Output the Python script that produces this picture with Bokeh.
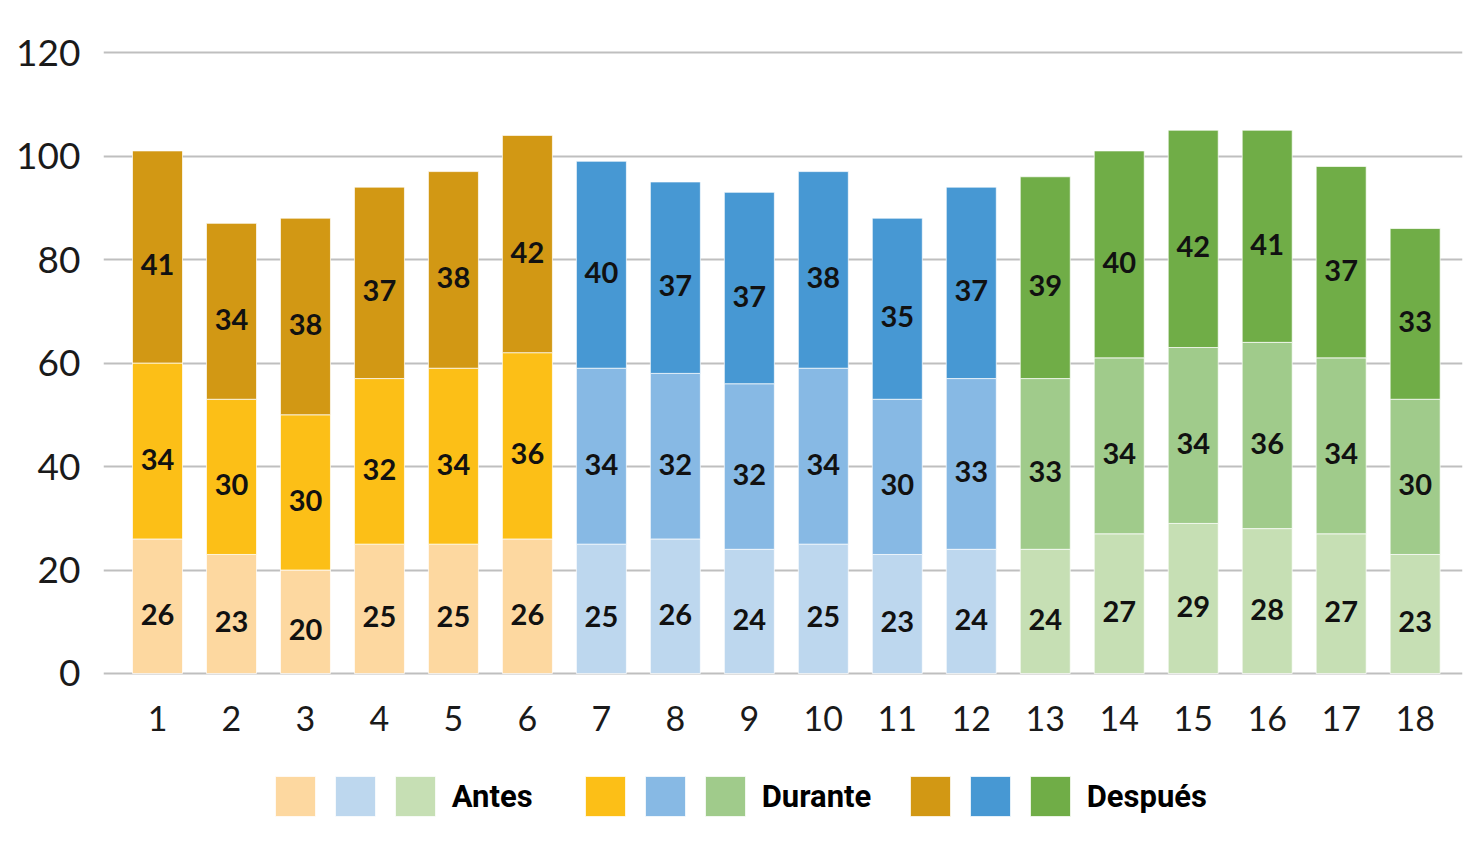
from bokeh.plotting import figure
from bokeh.models import ColumnDataSource, Legend, LegendItem, FixedTicker, Range1d
from bokeh.core.properties import value
from bokeh.embed import file_html
from bokeh.resources import INLINE

categories = ["1", "2", "3", "4", "5", "6", "7", "8", "9", "10",
              "11", "12", "13", "14", "15", "16", "17", "18"]
antes = [26, 23, 20, 25, 25, 26, 25, 26, 24, 25, 23, 24, 24, 27, 29, 28, 27, 23]
durante = [34, 30, 30, 32, 34, 36, 34, 32, 32, 34, 30, 33, 33, 34, 34, 36, 34, 30]
despues = [41, 34, 38, 37, 38, 42, 40, 37, 37, 38, 35, 37, 39, 40, 42, 41, 37, 33]
series_names = ["Antes", "Durante", "Después"]
y_ticks = [0, 20, 40, 60, 80, 100, 120]

# colour per group (bars 1-6, 7-12, 13-18) and per layer
palette = {
    "Antes":   ["#FDD8A0", "#BDD7EE", "#C6DFB4"],
    "Durante": ["#FCBF17", "#87B9E4", "#A0CB8B"],
    "Después": ["#D29814", "#4798D3", "#70AD47"],
}

xs = [int(c) for c in categories]
groups = [(x - 1) // 6 for x in xs]

# the frame reaches below zero so that category labels and legend sit inside it
p = figure(frame_width=1359, frame_height=791, output_backend="svg",
           toolbar_location=None, x_range=Range1d(0.27, 18.64),
           y_range=Range1d(-32.28, 120.6), x_axis_location=None,
           min_border_left=103, min_border_top=49,
           min_border_right=6, min_border_bottom=0)
p.outline_line_color = None
p.xgrid.grid_line_color = None
p.ygrid.grid_line_color = "#BFBFBF"
p.ygrid.grid_line_width = 2
p.ygrid.ticker = FixedTicker(ticks=y_ticks)

p.yaxis.ticker = FixedTicker(ticks=y_ticks)
p.yaxis.axis_line_color = None
p.yaxis.major_tick_line_color = None
p.yaxis.minor_tick_line_color = None
p.yaxis.major_tick_out = 0
p.yaxis.major_label_standoff = 23
p.yaxis.major_label_text_font = "Lato"
p.yaxis.major_label_text_font_size = "37px"
p.yaxis.major_label_text_color = "#1a1a1a"

# category labels under the bars
cat_src = ColumnDataSource(dict(x=xs, y=[0] * len(xs), label=categories))
p.text(x="x", y="y", text="label", source=cat_src, text_align="center",
       text_baseline="middle", y_offset=45, text_font=value("Lato"),
       text_font_size="34px", text_color="#1a1a1a")

layers = [antes, durante, despues]
renderers = []
bottom = [0] * len(xs)
for name, vals in zip(series_names, layers):
    top = [b + v for b, v in zip(bottom, vals)]
    mid = [(b + t) / 2 for b, t in zip(bottom, top)]
    src = ColumnDataSource(dict(
        x=xs, bottom=bottom, top=top, mid=mid,
        label=[str(v) for v in vals],
        color=[palette[name][g] for g in groups],
    ))
    r = p.vbar(x="x", bottom="bottom", top="top", width=0.676, source=src,
               fill_color="color", line_color="white", line_alpha=0.7,
               line_width=1)
    renderers.append(r)
    p.text(x="x", y="mid", text="label", source=src, text_align="center",
           text_baseline="middle", y_offset=8, text_font=value("Lato"),
           text_font_style="bold", text_font_size="29px", text_color="#111111")
    bottom = top

# legend: three squares per series (one per bar group), then the series name
legend_x = [167, 477, 802]
for k, (name, r) in enumerate(zip(series_names, renderers)):
    items = [
        LegendItem(label=" ", renderers=[r], index=0),
        LegendItem(label=" ", renderers=[r], index=6),
        LegendItem(label="\u00a0" + name, renderers=[r], index=12),
    ]
    lg = Legend(items=items, orientation="horizontal",
                location=(legend_x[k], 19),
                glyph_width=50, glyph_height=50, label_standoff=4,
                label_width=6, spacing=0, padding=0, margin=0,
                border_line_color=None, background_fill_alpha=0,
                label_text_font="'Liberation Sans Narrow', Roboto",
                label_text_font_style="bold",
                label_text_font_size="31px", label_text_color="#000000",
                label_height=50)
    p.add_layout(lg, "center")

open("out.html", "w").write(file_html(p, INLINE))
